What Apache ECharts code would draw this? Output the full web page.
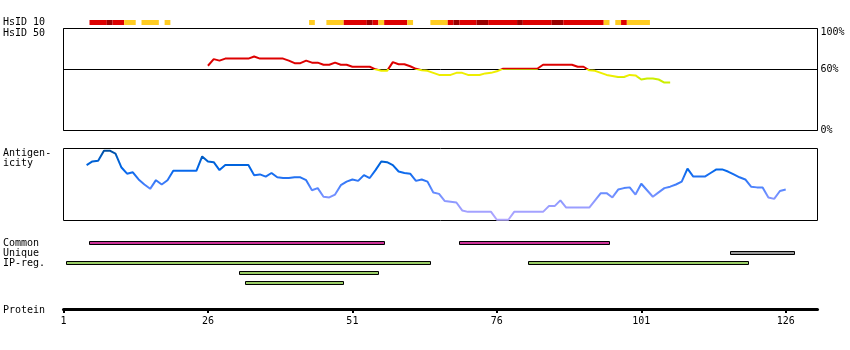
<!DOCTYPE html>
<html><head><meta charset="utf-8">
<script src="https://cdn.jsdelivr.net/npm/echarts@6/dist/echarts.min.js"></script>
<style>html,body{margin:0;padding:0;background:#fff}#c{width:850px;height:350px}</style>
</head><body><div id="c"></div>
<script>
const FONT = '"DejaVu Sans Mono", monospace';
const proteinLength = 131;
const tickResidues = [1, 26, 51, 76, 101, 126];

// HsID 10 strip: residue ranges and identity level
const hs10Start = [6,9,10,12,15,19,44,47,50,54,55,56,57,61,65,68,69,70,73,75,80,81,86,88,95,97,98,99];
const hs10End   = [8,9,11,13,17,19,44,49,53,54,55,56,60,61,67,68,69,72,74,79,80,85,87,94,95,97,98,102];
const hs10Level = ['red','dark','red','yellow','yellow','yellow','yellow','yellow','red','dark','red','yellow','red','yellow','yellow','red','dark','red','dark','red','dark','red','dark','red','yellow','yellow','red','yellow'];

// HsID 50 (%), residues 26..106
const hs50Start = 26;
const hs50Values = [63.5,70,68.5,70.5,70.5,70.5,70.5,70.5,72.5,70.5,
 70.5,70.5,70.5,70.5,68.5,66,66,68.5,66.5,66.5,
 64.5,64.5,66.5,64.5,64.5,62.5,62.5,62.5,62.5,60,
 58.5,58.5,67,65,65,63,60.5,59,58.5,56.5,
 54.5,54.5,54.5,56.5,56.5,54.5,54.5,54.5,56,56.5,
 58,60.5,60.5,60.5,60.5,60.5,60.5,60.5,64.5,64.5,
 64.5,64.5,64.5,64.5,62.5,62.5,59,58.5,56.5,54.5,
 53.5,52.5,52.5,54.5,54,50,51,51,50,47,
 47];

// Antigenicity (relative 0..100), residues 5..126
const antStart = 5;
const antValues = [77,82,83,97,97,93,74,65,67,57,
 50,44,56,50,56,69,69,69,69,69,
 89,82,81,70,77,77,77,77,77,63,
 64,61,66,60,59,59,60,60,56,42,
 45,33,32,36,49,54,57,55,63,59,
 70,82,81,77,68,66,65,55,57,54,
 39,37,27,26,25,14,12,12,12,12,
 12,1,1,1,12,12,12,12,12,12,
 20,20,28,18,18,18,18,18,28,38,
 38,32,43,45,46,36,51,42,33,39,
 45,47,50,54,72,61,61,61,66,71,
 71,68,64,60,57,47,46,46,32,30,
 41,43];

// Region bars
const regionNames = ['Common','Unique','IP-reg.'];
const regStart = [6,70,117,2,82,32,33];
const regEnd   = [56,95,127,64,119,55,49];
const regRow   = [0,0,1,2,2,3,4];
const regType  = ['common','common','unique','ip','ip','ip','ip'];

const hs10Colors = {red:'#dd0000', dark:'#990000', yellow:'#ffcc22'};
const regColors = {common:'#cc3399', unique:'#999999', ip:'#99cc66'};

const L = 63.5, W = 754;
const XMAX = proteinLength - 0.5;
function xAx(i, extra) {
  return Object.assign({gridIndex:i, type:'value', min:0, max:XMAX, show:false}, extra||{});
}

const chart = echarts.init(document.getElementById('c'), null, {renderer:'canvas'});
const txt = (t, x, y) => ({type:'text', x:x, y:y, style:{text:t, fill:'#000', font:'10px ' + FONT, verticalAlign:'middle'}});

chart.setOption({
  animation:false,
  backgroundColor:'#fff',
  grid:[
    {left:L, width:W, top:20, height:5},
    {left:L, width:W, top:28.5, height:102, show:true, borderColor:'#000', borderWidth:1},
    {left:L, width:W, top:148.5, height:72, show:true, borderColor:'#000', borderWidth:1},
    {left:L, width:W, top:237, height:50},
    {left:L, width:W, top:299.5, height:10}
  ],
  xAxis:[
    xAx(0), xAx(1), xAx(2), xAx(3),
    xAx(4, {show:true, position:'bottom', interval:25,
      axisLine:{show:true, lineStyle:{color:'#000', width:3}},
      axisTick:{show:true, length:3.5, lineStyle:{color:'#000', width:2}},
      splitLine:{show:false},
      axisLabel:{show:true, margin:7, color:'#000', fontFamily:FONT, fontSize:10, showMaxLabel:false, showMinLabel:true,
        formatter: v => { const r = Math.round(v) + 1; return tickResidues.indexOf(r) >= 0 ? String(r) : ''; }}})
  ],
  yAxis:[
    {gridIndex:0, type:'value', min:0, max:1, show:false},
    {gridIndex:1, type:'value', min:0, max:100, interval:60, position:'right',
      axisLine:{show:false}, axisTick:{show:false},
      splitLine:{show:true, lineStyle:{color:'#000', width:1}},
      axisLabel:{show:true, margin:3, color:'#000', fontFamily:FONT, fontSize:10,
        formatter: v => v === 100 ? '{t|100%}' : v + '%',
        rich:{t:{padding:[8,0,0,0], fontFamily:FONT, fontSize:10, color:'#000'}}}},
    {gridIndex:2, type:'value', min:0, max:100, show:false},
    {gridIndex:3, type:'value', min:0, max:5, inverse:true, show:false},
    {gridIndex:4, type:'value', min:0, max:1, show:false}
  ],
  visualMap:[
    {type:'piecewise', show:false, seriesIndex:1, dimension:1,
      pieces:[{gte:60, color:'#dd0000'}, {gte:52, lt:60, color:'#eeee00'}, {lt:52, color:'#ccee00'}]},
    {type:'continuous', show:false, seriesIndex:2, dimension:1, min:0, max:100,
      inRange:{color:['#b4aaff','#a0a0ff','#8a98ff','#5a88ff','#2a74f4','#0066ea','#005fcc','#004a94']}}
  ],
  series:[
    {type:'custom', xAxisIndex:0, yAxisIndex:0, silent:true,
      data: hs10Start.map((s,i) => [s - 1.5, hs10End[i] - 0.5]),
      renderItem:(params, api) => {
        const i = params.dataIndex;
        const p0 = api.coord([api.value(0), 1]);
        const p1 = api.coord([api.value(1), 0]);
        return {type:'rect', shape:{x:p0[0], y:p0[1], width:p1[0]-p0[0], height:p1[1]-p0[1]},
          style:{fill:hs10Colors[hs10Level[i]]}};
      }},
    {type:'line', xAxisIndex:1, yAxisIndex:1, showSymbol:false, silent:true,
      lineStyle:{width:2},
      data: hs50Values.map((v,i) => [hs50Start + i - 1, v])},
    {type:'line', xAxisIndex:2, yAxisIndex:2, showSymbol:false, silent:true,
      lineStyle:{width:2},
      data: antValues.map((v,i) => [antStart + i - 1, v])},
    {type:'custom', xAxisIndex:3, yAxisIndex:3, silent:true,
      data: regStart.map((s,i) => [s - 1.5, regEnd[i] - 0.5, regRow[i] + 0.5]),
      renderItem:(params, api) => {
        const i = params.dataIndex;
        const p0 = api.coord([api.value(0), api.value(2)]);
        const p1 = api.coord([api.value(1), api.value(2)]);
        const x0 = Math.round(p0[0] - 0.5) + 0.5;
        const x1 = Math.round(p1[0] - 0.5) + 0.5;
        return {type:'rect', shape:{x:x0, y:p0[1] - 0.5, width:x1 - x0, height:3},
          style:{fill:regColors[regType[i]], stroke:'#000', lineWidth:1}};
      }}
  ],
  graphic:[
    txt('HsID 10', 3, 22),
    txt('HsID 50', 3, 33),
    txt('Antigen-', 3, 153),
    txt('icity', 3, 163),
    txt(regionNames[0], 3, 243),
    txt(regionNames[1], 3, 253),
    txt(regionNames[2], 3, 263),
    txt('Protein', 3, 310)
  ]
});
</script></body></html>
